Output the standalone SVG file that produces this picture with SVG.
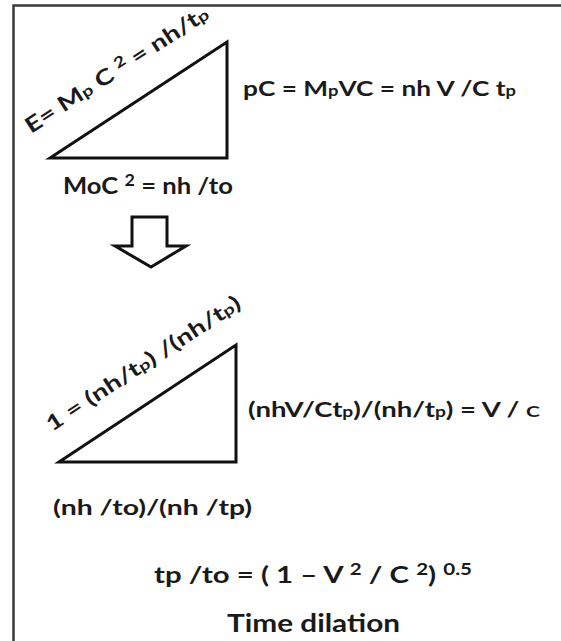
<svg xmlns="http://www.w3.org/2000/svg" width="561" height="641" viewBox="0 0 561 641">
<style>
.t{font-family:Lato,"Open Sans","Liberation Sans",sans-serif;font-weight:bold;fill:#1a1a1a}
.s{font-size:70%}
.shape{fill:#fff;stroke:#111;stroke-width:3;stroke-linejoin:miter}
</style>
<rect width="561" height="641" fill="#fff"/>
<g id="frame" fill="none" stroke="#3a3a3a" stroke-width="2.5">
<path d="M13.5,641 V5.5 H561"/>
</g>
<g id="triangle1">
<polygon class="shape" points="50,158 227,42 227,158"/>
<text class="t" font-size="21.5" transform="translate(31,134) rotate(-33)" textLength="214" lengthAdjust="spacingAndGlyphs">E= M<tspan class="s">p</tspan> C <tspan class="s" dy="-7">2</tspan><tspan dy="7"> =  nh/t</tspan><tspan class="s">p</tspan></text>
<text class="t" font-size="21" x="243" y="96" textLength="273" lengthAdjust="spacingAndGlyphs">pC = M<tspan class="s">p</tspan>VC = nh V /C t<tspan class="s">p</tspan></text>
<text class="t" font-size="23" x="63" y="194" textLength="170" lengthAdjust="spacingAndGlyphs">MoC <tspan class="s" dy="-8">2</tspan><tspan dy="8"> = nh /to</tspan></text>
</g>
<g id="arrow">
<polygon class="shape" stroke-width="2" points="132,217 167,217 167,246 186,246 151,267 115,246 132,246"/>
</g>
<g id="triangle2">
<polygon class="shape" points="59,462 236,345 236,462"/>
<text class="t" font-size="21" transform="translate(52,432) rotate(-33.3)" textLength="228" lengthAdjust="spacingAndGlyphs">1 = (nh/t<tspan class="s">p</tspan>) /(nh/t<tspan class="s">p</tspan>)</text>
<text class="t" font-size="21" x="248" y="417" textLength="292" lengthAdjust="spacingAndGlyphs">(nhV/Ct<tspan class="s">p</tspan>)/(nh/t<tspan class="s">p</tspan>) = V / <tspan font-size="16">C</tspan></text>
<text class="t" font-size="21" x="53" y="515" textLength="199" lengthAdjust="spacingAndGlyphs">(nh /to)/(nh /tp)</text>
</g>
<g id="result">
<text class="t" font-size="23" x="154" y="583" textLength="318" lengthAdjust="spacingAndGlyphs">tp /to = ( 1 – V <tspan class="s" dy="-8">2</tspan><tspan dy="8"> / C </tspan><tspan class="s" dy="-8">2</tspan><tspan dy="8">) </tspan><tspan class="s" dy="-8">0.5</tspan></text>
<text class="t" font-size="25" x="227" y="632" textLength="173" lengthAdjust="spacingAndGlyphs">Time dilation</text>
</g>
</svg>
